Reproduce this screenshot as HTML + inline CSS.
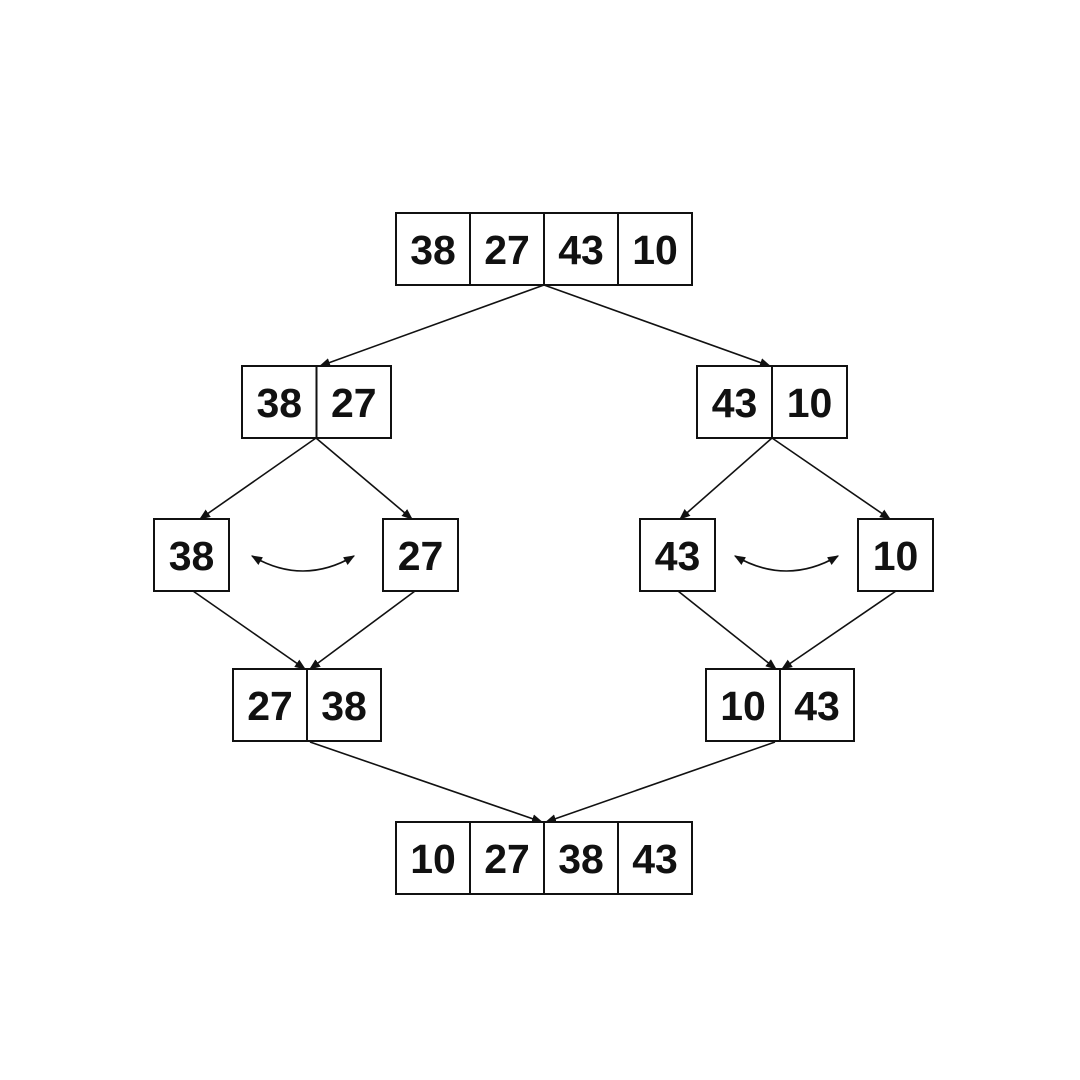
<!DOCTYPE html>
<html><head><meta charset="utf-8"><style>
html,body{margin:0;padding:0;background:#fff;}
svg{display:block;}
text{font-family:"Liberation Sans",sans-serif;font-weight:bold;font-size:41px;fill:#111;}
</style></head><body>
<svg id="chart" width="1080" height="1080" viewBox="0 0 1080 1080">
<defs><marker id="ah" viewBox="0 0 10 10" refX="9" refY="5" markerWidth="7" markerHeight="7" orient="auto-start-reverse"><path d="M0,1 L10,5 L0,9 z" fill="#111"/></marker></defs>
<g id="edges" stroke="#111" stroke-width="1.6" fill="none"></g>
<g id="boxes"></g>
</svg>
<script>
const rows = [
 {name:'input-array', x:396, y:213, w:74, vals:[38,27,43,10]},
 {name:'left-half', x:242, y:366, w:74.5, vals:[38,27]},
 {name:'right-half', x:697, y:366, w:75, vals:[43,10]},
 {name:'left-single-38', x:154, y:519, w:75, vals:[38]},
 {name:'left-single-27', x:383, y:519, w:75, vals:[27]},
 {name:'right-single-43', x:640, y:519, w:75, vals:[43]},
 {name:'right-single-10', x:858, y:519, w:75, vals:[10]},
 {name:'left-merged', x:233, y:669, w:74, vals:[27,38]},
 {name:'right-merged', x:706, y:669, w:74, vals:[10,43]},
 {name:'sorted-array', x:396, y:822, w:74, vals:[10,27,38,43]}
];
const edges = [
 [544,285,320,366],[544,285,770,366],
 [316,438,200,519],[316,438,412,519],
 [772,438,680,519],[772,438,890,519],
 [193,591,305,669],[415,591,310,669],
 [678,591,776,669],[896,591,782,669],
 [310,742,542,822],[775,742,546,822]
];
const NS='http://www.w3.org/2000/svg';
const bg=document.getElementById('boxes');
rows.forEach(r=>{
 const g=document.createElementNS(NS,'g');
 
 
 r.vals.forEach((v,i)=>{
  const rc=document.createElementNS(NS,'rect');
  rc.setAttribute('x',r.x+i*r.w);rc.setAttribute('y',r.y);
  rc.setAttribute('width',r.w);rc.setAttribute('height',72);
  rc.setAttribute('fill','#fff');rc.setAttribute('stroke','#111');rc.setAttribute('stroke-width','2');
  
  
  g.appendChild(rc);
  const t=document.createElementNS(NS,'text');
  t.setAttribute('x',r.x+i*r.w+r.w/2);t.setAttribute('y',r.y+51);
  t.setAttribute('text-anchor','middle');t.textContent=v;
  
  
  g.appendChild(t);
 });
 bg.appendChild(g);
});
const eg=document.getElementById('edges');
edges.forEach(e=>{
 const l=document.createElementNS(NS,'line');
 l.setAttribute('x1',e[0]);l.setAttribute('y1',e[1]);l.setAttribute('x2',e[2]);l.setAttribute('y2',e[3]);
 l.setAttribute('marker-end','url(#ah)');
 
 
 eg.appendChild(l);
});
[[252,556,354,556],[735,556,838,556]].forEach(s=>{
 const p=document.createElementNS(NS,'path');
 const mx=(s[0]+s[2])/2;
 p.setAttribute('d',`M${s[0]},${s[1]} Q${mx},${s[1]+30} ${s[2]},${s[3]}`);
 p.setAttribute('marker-start','url(#ah)');p.setAttribute('marker-end','url(#ah)');
 
 
 eg.appendChild(p);
});
</script>
</body></html>
